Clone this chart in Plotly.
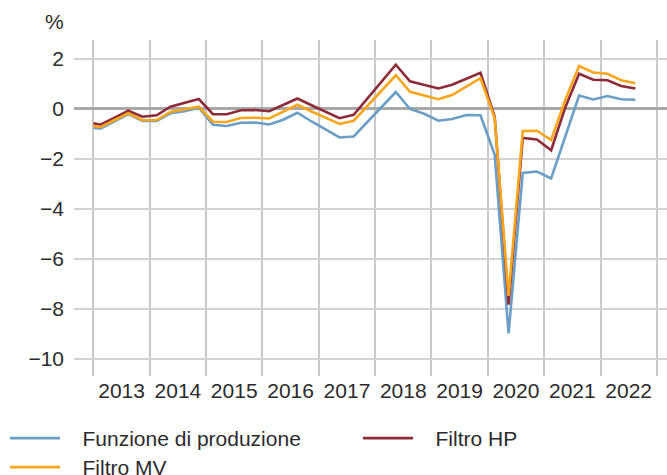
import plotly.graph_objects as go

# Quarterly dates (mid-quarter), preceded by the series start at 2013-01-01
dates = ["2013-01-01"]
for yr in range(2013, 2023):
    for md in ["02-15", "05-15", "08-15", "11-15"]:
        dates.append(f"{yr}-{md}")
dates = dates[:40]  # up to 2022 Q3

funzione_produzione = [-0.77, -0.81, -0.52, -0.22, -0.50, -0.50, -0.19, -0.11, 0.03,
                       -0.65, -0.70, -0.57, -0.56, -0.64, -0.45, -0.17, -0.52, -0.85,
                       -1.16, -1.12, -0.52, 0.11, 0.66, -0.02, -0.21, -0.49, -0.42,
                       -0.26, -0.27, -1.85, -9.0, -2.58, -2.52, -2.80, -1.13, 0.52,
                       0.36, 0.50, 0.37, 0.35]
filtro_hp = [-0.59, -0.65, -0.38, -0.09, -0.33, -0.27, 0.07, 0.21, 0.38,
             -0.23, -0.23, -0.07, -0.06, -0.11, 0.13, 0.40, 0.13, -0.15,
             -0.39, -0.25, 0.41, 1.08, 1.75, 1.09, 0.96, 0.80, 0.95,
             1.19, 1.43, -0.33, -7.85, -1.18, -1.24, -1.67, 0.0, 1.39,
             1.15, 1.13, 0.90, 0.80]
filtro_mv = [-0.70, -0.75, -0.47, -0.19, -0.47, -0.46, -0.14, -0.05, 0.07,
             -0.53, -0.54, -0.38, -0.37, -0.40, -0.13, 0.15, -0.12, -0.37,
             -0.62, -0.49, 0.12, 0.75, 1.33, 0.67, 0.53, 0.37, 0.54,
             0.87, 1.21, -0.38, -7.5, -0.90, -0.89, -1.26, 0.30, 1.70,
             1.44, 1.39, 1.13, 1.01]

y_ticks = [-10, -8, -6, -4, -2, 0, 2]

BLUE = "#6b9ec6"
RED = "#8e2b39"
ORANGE = "#f9a61c"
FONT = "Liberation Sans"
TXT = "#2b2b2b"
PAD = "\u00a0\u00a0\u00a0"  # gap between legend line and label

fig = go.Figure()
fig.add_trace(go.Scatter(x=dates, y=funzione_produzione, mode="lines",
                         name=PAD + "Funzione di produzione", legend="legend",
                         showlegend=True,
                         line=dict(color=BLUE, width=2.6)))
fig.add_trace(go.Scatter(x=dates, y=filtro_hp, mode="lines",
                         name=PAD + "Filtro HP", legend="legend2",
                         showlegend=True,
                         line=dict(color=RED, width=2.6)))
fig.add_trace(go.Scatter(x=dates, y=filtro_mv, mode="lines",
                         name=PAD + "Filtro MV", legend="legend3",
                         showlegend=True,
                         line=dict(color=ORANGE, width=2.6)))

PW, PH = 593, 336
leg_common = dict(xanchor="left", yanchor="top", orientation="v",
                  itemwidth=50, font=dict(size=21), bgcolor="rgba(0,0,0,0)")
fig.update_layout(
    width=667, height=475,
    showlegend=True,
    margin=dict(l=74, r=0, t=40, b=99, autoexpand=False),
    plot_bgcolor="white", paper_bgcolor="white",
    font=dict(family=FONT, size=21, color=TXT),
    xaxis=dict(
        type="date",
        range=["2012-08-28", "2023-03-08"],
        tick0="2013-01-01", dtick="M12",
        ticklabelmode="period", tickformat="%Y",
        showgrid=True, gridcolor="#c9c9c9", gridwidth=1.5,
        zeroline=False, showline=False, ticks="",
        tickfont=dict(size=21), automargin=False,
    ),
    yaxis=dict(
        range=[-10.7, 2.74],
        tickvals=y_ticks,
        showgrid=True, gridcolor="#d2d2d2", gridwidth=1.5,
        zeroline=True, zerolinecolor="#a8a8a8", zerolinewidth=2.5,
        showline=False, ticks="",
        tickfont=dict(size=21), automargin=False,
        ticklabelstandoff=9,
    ),
    legend=dict(x=(5-74)/PW, y=-42/PH, **leg_common),
    legend2=dict(x=(358-74)/PW, y=-42/PH, **leg_common),
    legend3=dict(x=(5-74)/PW, y=-71/PH, **leg_common),
    annotations=[dict(text="%", xref="paper", yref="paper",
                      x=(54-74)/PW, y=(376-22)/PH, xanchor="center",
                      yanchor="middle", showarrow=False,
                      font=dict(size=21, color=TXT))],
)

fig.write_html("out.html", config={"displayModeBar": False},
               post_script="document.body.style.margin='0';")
